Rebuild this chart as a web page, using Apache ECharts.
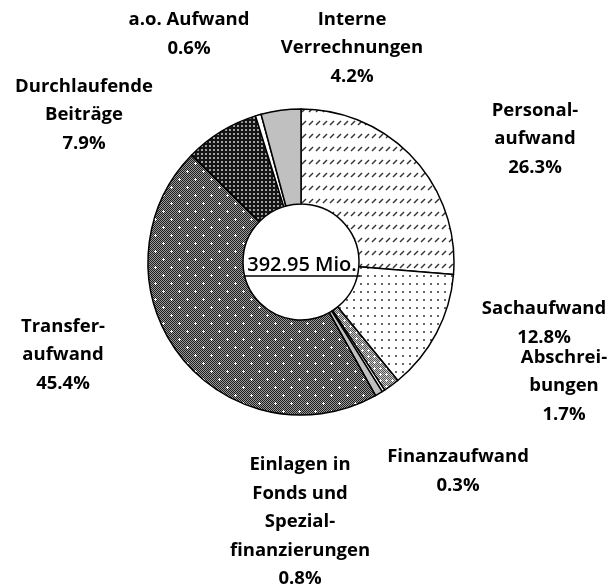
<!DOCTYPE html>
<html>
<head>
<meta charset="utf-8">
<script src="https://cdn.jsdelivr.net/npm/echarts@6/dist/echarts.min.js"></script>
<style>html,body{margin:0;padding:0;background:#fff;}#c{width:614px;height:588px;}</style>
</head>
<body>
<div id="c"></div>
<script>
// ---- data ----
var categories = ["Personal-\naufwand", "Sachaufwand", "Abschrei-\nbungen", "Finanzaufwand",
  "Einlagen in\nFonds und\nSpezial-\nfinanzierungen", "Transfer-\naufwand",
  "Durchlaufende\nBeiträge", "a.o. Aufwand", "Interne\nVerrechnungen"];
var shares = [26.3, 12.8, 1.7, 0.3, 0.8, 45.4, 7.9, 0.6, 4.2];
var totalLabel = "392.95 Mio.";

// label anchor positions (layout, not data)
var labelPos = [[535,139],[544,323],[564,386],[458,471],[300,522],[63,355],[84,115],[189,34],[352,48]];

function tile(w, h, draw) {
  var c = document.createElement('canvas'); c.width = w; c.height = h;
  var g = c.getContext('2d'); draw(g, w, h); return c;
}
function checker(g, w, h, a, b) {
  for (var y = 0; y < h; y++) for (var x = 0; x < w; x++) {
    g.fillStyle = ((x + y) % 2 === 0) ? a : b; g.fillRect(x, y, 1, 1);
  }
}
var pPersonal = tile(7, 13, function (g) {
  g.fillStyle = '#fff'; g.fillRect(0, 0, 7, 13);
  g.strokeStyle = '#333'; g.lineWidth = 1.5;
  g.beginPath(); g.moveTo(1, 8); g.lineTo(5, 4); g.stroke();
});
var pSach = tile(7, 8, function (g) {
  g.fillStyle = '#fff'; g.fillRect(0, 0, 7, 8);
  g.fillStyle = '#666'; g.fillRect(3, 3, 2, 2);
});
var pAbschr = tile(6, 6, function (g) {
  checker(g, 6, 6, '#555', '#c8c8c8');
  g.fillStyle = '#fff'; g.fillRect(2, 1, 1, 3); g.fillRect(1, 2, 3, 1);
});
var pTransfer = tile(16, 16, function (g) {
  checker(g, 16, 16, '#1e1e1e', '#9a9a9a');
  g.fillStyle = '#fff';
  g.fillRect(3, 2, 1, 3); g.fillRect(2, 3, 3, 1);
  g.fillRect(11, 10, 1, 3); g.fillRect(10, 11, 3, 1);
});
var pDurch = tile(4, 4, function (g) {
  g.fillStyle = '#151515'; g.fillRect(0, 0, 4, 4);
  g.fillStyle = '#a0a0a0'; g.fillRect(1, 1, 2, 2);
});
var fills = [
  {image: pPersonal, repeat: 'repeat'},
  {image: pSach, repeat: 'repeat'},
  {image: pAbschr, repeat: 'repeat'},
  '#ffffff',
  '#c0c0c0',
  {image: pTransfer, repeat: 'repeat'},
  {image: pDurch, repeat: 'repeat'},
  '#ffffff',
  '#c0c0c0'
];

var chart = echarts.init(document.getElementById('c'), null, {renderer: 'canvas'});
var FONT = '"Open Sans", Lato, sans-serif';
chart.setOption({
  animation: false,
  series: [{
    type: 'pie',
    center: [301, 262],
    radius: [58, 153],
    startAngle: 90,
    clockwise: true,
    avoidLabelOverlap: false,
    itemStyle: {borderColor: '#000', borderWidth: 1.5},
    label: {
      show: true,
      fontFamily: FONT, fontWeight: 'bold', fontSize: 18.5, lineHeight: 28.5,
      color: '#000', align: 'center',
      formatter: function (p) { return p.name + '\n' + p.value.toFixed(1) + '%'; }
    },
    labelLine: {show: false},
    labelLayout: function (p) {
      var pos = labelPos[p.dataIndex];
      return {x: pos[0], y: pos[1], align: 'center', verticalAlign: 'middle'};
    },
    emphasis: {disabled: true},
    data: categories.map(function (n, i) {
      return {name: n, value: shares[i], itemStyle: {color: fills[i]}};
    })
  }],
  graphic: [
    {type: 'text', z: 100, x: 302, y: 265, style: {text: totalLabel, font: '600 20px ' + FONT, fill: '#000', align: 'center', verticalAlign: 'middle'}},
    {type: 'line', z: 100, shape: {x1: 243, y1: 276, x2: 360, y2: 276}, style: {stroke: '#000', lineWidth: 1.5}}
  ]
});
</script>
</body>
</html>
